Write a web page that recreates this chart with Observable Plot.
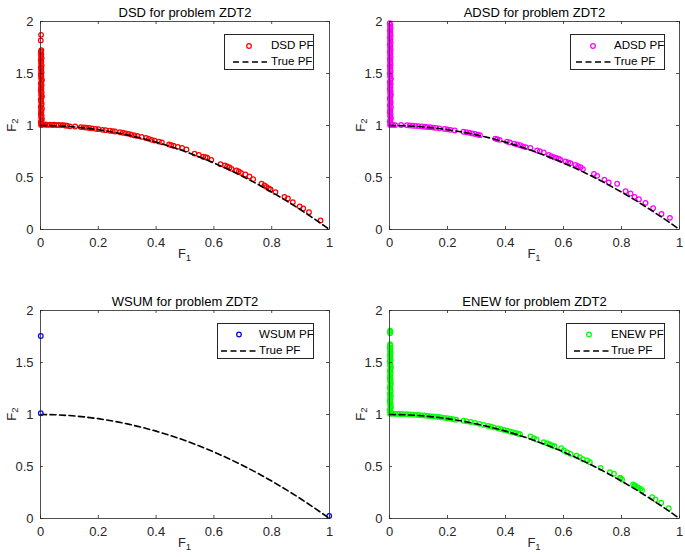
<!DOCTYPE html>
<html><head><meta charset="utf-8">
<script src="https://cdn.jsdelivr.net/npm/d3@7"></script>
<script src="https://cdn.jsdelivr.net/npm/@observablehq/plot@0.6"></script>
<style>
body{margin:0;background:#fff;}
#wrap{position:relative;width:685px;height:557px;overflow:hidden;font-family:"Liberation Sans",Arial,Helvetica,sans-serif;background:#fff;}
.panel{position:absolute;}
.legend{position:absolute;border:1px solid #262626;background:#fff;box-sizing:border-box;height:36px;}
.legend svg{position:absolute;left:0;top:0;}
.legend span{position:absolute;font-size:11.6px;color:#000;line-height:14px;white-space:nowrap;}
</style></head><body><div id="wrap"></div>
<script>
// ---- data ----
const xTicks = [0, 0.2, 0.4, 0.6, 0.8, 1];
const xTickLabels = ["0", "0.2", "0.4", "0.6", "0.8", "1"];
const yTicks = [0, 0.5, 1, 1.5, 2];
const yTickLabels = ["0", "0.5", "1", "1.5", "2"];

const trueF1 = [0,0.05,0.1,0.15,0.2,0.25,0.3,0.35,0.4,0.45,0.5,0.55,0.6,0.65,0.7,0.75,0.8,0.85,0.9,0.95,1];
const trueF2 = [1,0.9975,0.99,0.9775,0.96,0.9375,0.91,0.8775,0.84,0.7975,0.75,0.6975,0.64,0.5775,0.51,0.4375,0.36,0.2775,0.19,0.0975,0];

const dsdPF = [
 [0.002,1.004],[0.004,1.018],[0.001,1.031],[0.003,1.047],[0.005,1.062],[0.002,1.079],[0.004,1.094],[0.001,1.112],[0.003,1.128],[0.002,1.146],[0.005,1.161],[0.001,1.179],[0.003,1.196],[0.004,1.212],[0.002,1.231],[0.001,1.248],[0.003,1.266],[0.005,1.281],[0.002,1.299],[0.004,1.317],[0.001,1.334],[0.003,1.352],[0.002,1.368],[0.004,1.387],[0.001,1.403],[0.003,1.421],[0.005,1.439],[0.002,1.456],[0.003,1.472],[0.001,1.491],[0.004,1.508],[0.002,1.526],[0.003,1.543],[0.001,1.561],[0.004,1.577],[0.002,1.596],[0.003,1.612],[0.001,1.63],[0.004,1.647],[0.002,1.664],[0.003,1.682],[0.001,1.698],[0.002,1.712],[0.003,1.724],[0.001,1.818],[0.002,1.872],
 [0.006,1.012],[0.012,1.008],[0.018,1.01],[0.025,1.006],[0.032,1.009],[0.04,1.005],[0.047,1.007],[0.055,1.004],[0.062,1.006],[0.07,1.002],[0.078,1.003],[0.085,1.0],[0.092,0.998],[0.102,0.992],[0.12,0.99],[0.14,0.985],[0.15,0.982],[0.158,0.98],[0.168,0.976],[0.178,0.973],[0.19,0.968],[0.2,0.965],[0.215,0.958],[0.225,0.955],[0.24,0.95],[0.25,0.946],[0.258,0.942],[0.275,0.935],[0.285,0.93],[0.295,0.925],[0.305,0.92],[0.315,0.912],[0.325,0.905],[0.335,0.9],[0.35,0.89],[0.365,0.88],[0.375,0.872],[0.385,0.862],[0.395,0.855],[0.41,0.845],[0.42,0.838],[0.445,0.818],[0.452,0.812],[0.46,0.805],[0.475,0.795],
 [0.49,0.785],[0.505,0.77],[0.533,0.73],[0.548,0.718],[0.563,0.70],[0.571,0.695],[0.577,0.69],[0.591,0.67],[0.623,0.628],[0.638,0.615],[0.646,0.606],[0.654,0.596],[0.661,0.583],[0.678,0.567],[0.686,0.558],[0.694,0.545],[0.709,0.529],[0.723,0.51],[0.736,0.484],[0.765,0.44],[0.775,0.423],[0.782,0.41],[0.79,0.394],[0.796,0.385],[0.813,0.359],[0.844,0.314],[0.856,0.298],[0.873,0.263],[0.897,0.221],[0.909,0.202],[0.929,0.167],[0.969,0.087]
];

const adsdPF = [
 [0.002,1.006],[0.004,1.022],[0.001,1.039],[0.003,1.056],[0.005,1.072],[0.002,1.09],[0.004,1.107],[0.001,1.125],[0.003,1.141],[0.002,1.158],[0.005,1.176],[0.001,1.193],[0.003,1.21],[0.004,1.227],[0.002,1.245],[0.001,1.262],[0.003,1.279],[0.005,1.296],[0.002,1.313],[0.004,1.331],[0.001,1.348],[0.003,1.365],[0.002,1.382],[0.004,1.4],[0.001,1.417],[0.003,1.434],[0.005,1.451],[0.002,1.468],[0.003,1.486],[0.001,1.503],[0.004,1.52],[0.002,1.537],[0.003,1.555],[0.001,1.572],[0.004,1.589],[0.002,1.606],[0.003,1.624],[0.001,1.641],[0.004,1.658],[0.002,1.675],[0.003,1.693],[0.001,1.71],[0.004,1.727],[0.002,1.744],[0.003,1.762],[0.001,1.779],[0.004,1.796],[0.002,1.813],[0.003,1.831],[0.001,1.848],[0.004,1.865],[0.002,1.882],[0.003,1.9],[0.001,1.917],[0.004,1.934],[0.002,1.951],[0.003,1.968],[0.001,1.984],
 [0.005,1.01],[0.012,1.006],[0.02,1.004],[0.04,1.005],[0.06,1.003],[0.07,1.0],[0.08,0.998],[0.09,0.996],[0.1,0.994],[0.112,0.99],[0.122,0.988],[0.13,0.985],[0.14,0.983],[0.15,0.98],[0.16,0.977],[0.172,0.973],[0.19,0.967],[0.2,0.963],[0.21,0.958],[0.225,0.952],[0.255,0.94],[0.265,0.935],[0.275,0.93],[0.285,0.924],[0.295,0.918],[0.305,0.912],[0.312,0.907],[0.365,0.874],[0.372,0.868],[0.38,0.862],[0.405,0.845],[0.415,0.837],[0.43,0.826],[0.44,0.818],[0.45,0.81],[0.46,0.8],[0.47,0.792],
 [0.486,0.785],[0.509,0.76],[0.518,0.753],[0.532,0.74],[0.549,0.718],[0.558,0.705],[0.567,0.695],[0.575,0.689],[0.584,0.68],[0.59,0.67],[0.607,0.654],[0.616,0.644],[0.624,0.637],[0.641,0.622],[0.65,0.609],[0.659,0.599],[0.667,0.58],[0.705,0.535],[0.716,0.516],[0.741,0.48],[0.756,0.452],[0.785,0.44],[0.814,0.368],[0.831,0.346],[0.845,0.314],[0.86,0.291],[0.883,0.256],[0.909,0.205],[0.938,0.15],[0.967,0.112]
];

const wsumPF = [[0.001,1.755],[0.001,1.012],[0.999,0.024]];

const enewPF = [
 [0.002,1.008],[0.004,1.024],[0.001,1.041],[0.003,1.058],[0.005,1.075],[0.002,1.092],[0.004,1.11],[0.001,1.127],[0.003,1.144],[0.002,1.161],[0.005,1.179],[0.001,1.196],[0.003,1.213],[0.004,1.23],[0.002,1.248],[0.001,1.265],[0.003,1.282],[0.005,1.3],[0.002,1.317],[0.004,1.334],[0.001,1.351],[0.003,1.369],[0.002,1.386],[0.004,1.403],[0.001,1.42],[0.003,1.438],[0.005,1.455],[0.002,1.472],[0.003,1.49],[0.001,1.507],[0.004,1.524],[0.002,1.541],[0.003,1.559],[0.001,1.576],[0.004,1.593],[0.002,1.61],[0.003,1.628],[0.001,1.645],[0.003,1.662],[0.002,1.676],[0.002,1.782],[0.003,1.795],[0.002,1.806],
 [0.005,1.01],[0.012,1.008],[0.02,1.006],[0.03,1.006],[0.04,1.005],[0.05,1.004],[0.06,1.003],[0.07,1.0],[0.08,0.999],[0.09,0.997],[0.1,0.995],[0.11,0.992],[0.12,0.99],[0.13,0.987],[0.14,0.985],[0.15,0.982],[0.16,0.98],[0.17,0.977],[0.18,0.972],[0.19,0.968],[0.2,0.964],[0.21,0.96],[0.22,0.955],[0.23,0.95],[0.255,0.94],[0.265,0.935],[0.28,0.928],[0.295,0.92],[0.31,0.91],[0.325,0.9],[0.34,0.89],[0.35,0.884],[0.36,0.876],[0.375,0.866],[0.385,0.86],[0.395,0.852],[0.405,0.845],[0.415,0.837],[0.425,0.83],[0.435,0.822],[0.445,0.815],[0.45,0.81],
 [0.486,0.788],[0.498,0.772],[0.507,0.76],[0.532,0.734],[0.543,0.724],[0.552,0.714],[0.561,0.702],[0.569,0.695],[0.592,0.676],[0.601,0.654],[0.612,0.638],[0.624,0.622],[0.645,0.603],[0.656,0.589],[0.667,0.57],[0.682,0.558],[0.691,0.541],[0.728,0.487],[0.76,0.445],[0.774,0.43],[0.795,0.392],[0.797,0.388],[0.802,0.375],[0.84,0.327],[0.845,0.318],[0.848,0.314],[0.854,0.301],[0.858,0.296],[0.866,0.285],[0.871,0.269],[0.906,0.205],[0.917,0.183],[0.937,0.151],[0.963,0.099]
];

const seriesNames = ["DSD", "ADSD", "WSUM", "ENEW"];
const seriesColors = ["#ff0000", "#ff00ff", "#0000ff", "#00ff00"];
const seriesData = [dsdPF, adsdPF, wsumPF, enewPF];

// ---- layout ----
const layout = [
 {left:0,   top:0,   width:340, height:278, mt:21, mb:49, ml:40, mr:11, lg:{left:224, top:34,  width:90, lx1:8, lx2:42, mx:24, tx:46, r1:11, r2:27}},
 {left:340, top:0,   width:345, height:278, mt:21, mb:49, ml:49, mr:6,  lg:{left:570, top:34,  width:95, lx1:5, lx2:40, mx:22, tx:43, r1:11, r2:27}},
 {left:0,   top:278, width:340, height:279, mt:32, mb:39, ml:40, mr:11, lg:{left:217, top:323, width:97, lx1:3, lx2:38, mx:21, tx:41, r1:10.5, r2:27}},
 {left:340, top:278, width:345, height:279, mt:32, mb:39, ml:49, mr:6,  lg:{left:566, top:323, width:99, lx1:7, lx2:43, mx:22, tx:44, r1:10.5, r2:27}}
];

const wrap = document.getElementById("wrap");
const axisColor = "#262626";
const trueLine = trueF1.map((x, i) => ({f1: x, f2: trueF2[i]}));
const fmtX = d => xTickLabels[xTicks.indexOf(d)];
const fmtY = d => yTickLabels[yTicks.indexOf(d)];

seriesNames.forEach((name, k) => {
  const L = layout[k];
  const pw = L.width - L.ml - L.mr;
  const ph = L.height - L.mt - L.mb;
  const pts = seriesData[k].map(([a, b]) => ({f1: a, f2: b}));
  const chart = Plot.plot({
    width: L.width, height: L.height,
    marginTop: L.mt, marginBottom: L.mb, marginLeft: L.ml, marginRight: L.mr,
    x: {domain: [0, 1]},
    y: {domain: [0, 2]},
    style: {fontFamily: '"Liberation Sans", Arial, Helvetica, sans-serif', fontSize: "13px", color: axisColor, background: "transparent", overflow: "visible"},
    marks: [
      Plot.dot(pts, {x: "f1", y: "f2", r: 2.3, stroke: seriesColors[k], strokeWidth: 1.25, fill: "none"}),
      Plot.line(trueLine, {x: "f1", y: "f2", stroke: "#000", strokeWidth: 1.6, strokeDasharray: "6,3.5"}),
      Plot.frame({stroke: axisColor, strokeWidth: 0.8}),
      Plot.tickX(xTicks, {x: d => d, insetTop: ph - 3, stroke: axisColor, strokeWidth: 0.8}),
      Plot.tickX(xTicks, {x: d => d, insetBottom: ph - 3, stroke: axisColor, strokeWidth: 0.8}),
      Plot.tickY(yTicks, {y: d => d, insetRight: pw - 3, stroke: axisColor, strokeWidth: 0.8}),
      Plot.tickY(yTicks, {y: d => d, insetLeft: pw - 3, stroke: axisColor, strokeWidth: 0.8}),
      Plot.axisX({ticks: xTicks, tickFormat: fmtX, tickSize: 0, tickPadding: 8, label: null, fontSize: 13}),
      Plot.axisY({ticks: yTicks, tickFormat: fmtY, tickSize: 0, tickPadding: 7, label: null, fontSize: 13}),
      Plot.text([name + " for problem ZDT2"], {text: d => d, frameAnchor: "top", lineAnchor: "bottom", dy: -5, fontSize: 13, fill: "#000"})
    ]
  });
  const svg = d3.select(chart);
  const xl = svg.append("text")
    .attr("x", L.ml + pw / 2).attr("y", L.height - L.mb + 29)
    .attr("text-anchor", "middle").attr("font-size", 13).attr("fill", axisColor);
  xl.append("tspan").text("F");
  xl.append("tspan").attr("dy", 2.5).attr("font-size", 9.5).text("1");
  const yl = svg.append("text")
    .attr("transform", `translate(${L.ml - 24.5},${L.mt + ph / 2}) rotate(-90)`)
    .attr("text-anchor", "middle").attr("font-size", 13).attr("fill", axisColor);
  yl.append("tspan").text("F");
  yl.append("tspan").attr("dy", 2.5).attr("font-size", 9.5).text("2");

  const holder = document.createElement("div");
  holder.className = "panel";
  holder.style.left = L.left + "px";
  holder.style.top = L.top + "px";
  holder.appendChild(chart);
  wrap.appendChild(holder);

  // legend
  const g = L.lg;
  const lg = document.createElement("div");
  lg.className = "legend";
  lg.style.left = g.left + "px";
  lg.style.top = g.top + "px";
  lg.style.width = g.width + "px";
  lg.innerHTML =
    `<svg width="${g.width}" height="36">` +
    `<circle cx="${g.mx}" cy="${g.r1}" r="2.3" fill="none" stroke="${seriesColors[k]}" stroke-width="1.25"/>` +
    `<line x1="${g.lx1}" x2="${g.lx2}" y1="${g.r2}" y2="${g.r2}" stroke="#000" stroke-width="1.6" stroke-dasharray="6,3.5"/>` +
    `</svg>` +
    `<span style="left:${g.tx}px;top:${g.r1 - 8}px">${name} PF</span>` +
    `<span style="left:${g.tx}px;top:${g.r2 - 8}px">True PF</span>`;
  wrap.appendChild(lg);
});
</script></body></html>
